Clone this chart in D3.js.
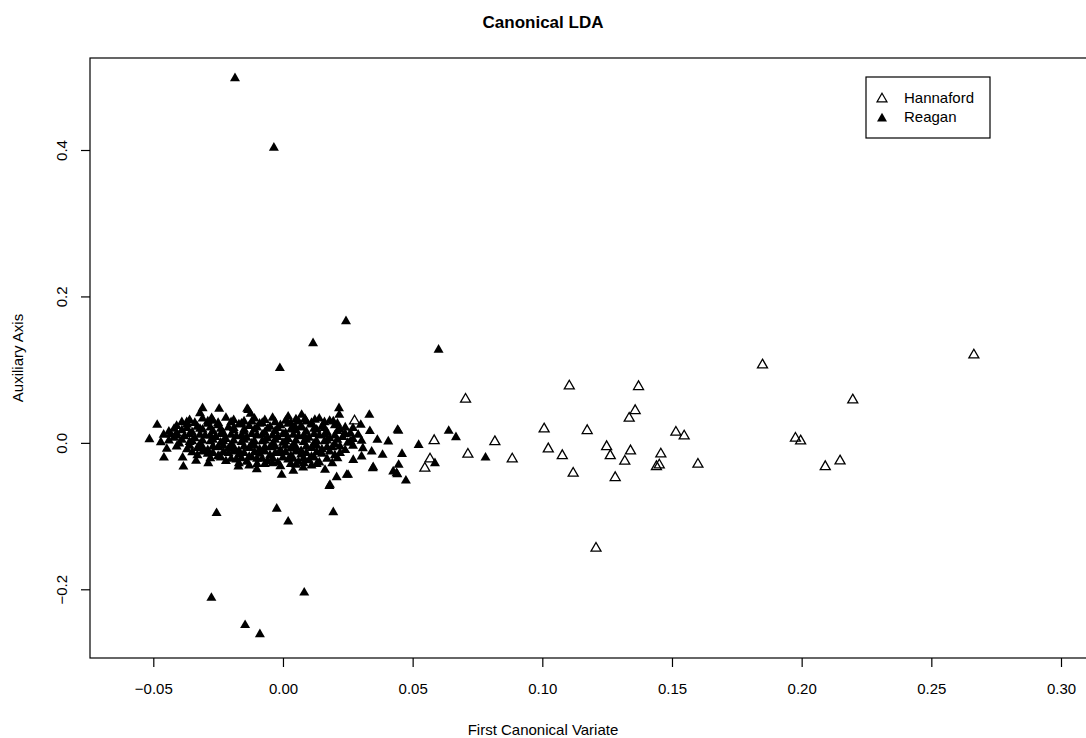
<!DOCTYPE html>
<html>
<head>
<meta charset="utf-8">
<script src="https://cdn.jsdelivr.net/npm/d3@7"></script>
<style>
  body { margin: 0; background: #fff; }
  svg text { font-family: "Liberation Sans", Arial, sans-serif; fill: #000; }
</style>
</head>
<body>
<script>
/* Canonical LDA scatter */

const xTicks = [-0.05, 0.00, 0.05, 0.10, 0.15, 0.20, 0.25, 0.30];
const yTicks = [-0.2, 0.0, 0.2, 0.4];
const groups = ["Hannaford", "Reagan"];

// Hannaford (open triangles)
const hannaford = [
  [0.0276, 0.0299], [0.0583, 0.0030], [0.0567, -0.0220], [0.0547, -0.0347],
  [0.0704, 0.0595], [0.0713, -0.0156], [0.0817, 0.0016], [0.0884, -0.0220],
  [0.1007, 0.0190], [0.1023, -0.0083], [0.1077, -0.0175], [0.1104, 0.0777],
  [0.1119, -0.0415], [0.1173, 0.0167], [0.1207, -0.1440], [0.1248, -0.0052],
  [0.1262, -0.0175], [0.1281, -0.0475], [0.1318, -0.0251], [0.1335, 0.0336],
  [0.1340, -0.0110], [0.1358, 0.0440], [0.1371, 0.0768], [0.1440, -0.0325],
  [0.1451, -0.0302], [0.1457, -0.0152], [0.1515, 0.0145], [0.1547, 0.0094],
  [0.1600, -0.0292], [0.1849, 0.1064], [0.1976, 0.0063], [0.1996, 0.0026],
  [0.2091, -0.0325], [0.2148, -0.0247], [0.2197, 0.0586], [0.2664, 0.1200]
];

// Reagan outliers
const reaganOuter = [
  [-0.0185, 0.498], [-0.0035, 0.403], [0.0243, 0.166], [0.0116, 0.136],
  [-0.0012, 0.102], [0.0600, 0.127], [-0.0256, -0.096], [-0.0024, -0.090],
  [0.0020, -0.1076], [0.0194, -0.0948], [-0.0276, -0.2118], [0.0082, -0.2046],
  [-0.0146, -0.249], [-0.0089, -0.2614]
];

// Reagan, right side of the cluster
const reaganRight = [
  [0.0639, 0.0163], [0.0667, 0.0076], [0.0781, -0.0202], [0.0586, -0.0279],
  [0.0333, 0.0381], [0.0445, 0.0163], [0.0406, 0.0017], [0.0364, 0.0040],
  [0.0523, -0.0029], [0.0384, -0.0165], [0.0459, -0.0152], [0.0346, -0.0347],
  [0.0446, -0.0302], [0.0425, -0.0393], [0.0441, -0.0429], [0.0474, -0.0516],
  [0.0251, -0.0438], [0.0300, 0.0245], [0.0335, 0.0160], [0.0303, 0.0026],
  [0.0308, -0.0074], [0.0342, -0.0120], [0.0303, -0.0188], [0.0271, -0.0234],
  [0.0442, 0.0176], [0.0348, -0.0333], [0.0438, -0.0415], [0.0179, -0.0589],
  [0.0207, -0.0470], [0.0162, -0.0370], [0.0181, -0.0575]
];

// Reagan, edges of the cluster
const reaganEdge = [
  [-0.0485, 0.0245], [-0.0515, 0.0049], [-0.0471, 0.0008], [-0.0433, 0.0117],
  [-0.0448, -0.0083], [-0.0459, -0.0202], [-0.0387, -0.0202], [-0.0384, -0.0325],
  [-0.0335, -0.0247], [-0.0288, -0.0279], [-0.0310, 0.0473], [-0.0320, 0.0404],
  [-0.0246, 0.0463], [-0.0275, 0.0336], [-0.0371, 0.0281], [-0.0410, 0.0131],
  [-0.0243, -0.0188], [-0.0172, -0.0325], [-0.0138, 0.0463], [-0.0125, 0.0395],
  [0.0020, 0.0358], [0.0072, 0.0381], [0.0085, 0.0326], [0.0123, 0.0313],
  [0.0216, 0.0473], [0.0217, 0.0381], [0.0194, 0.0290], [0.0046, 0.0221],
  [-0.0101, -0.0361], [-0.0005, -0.0438], [0.0040, -0.0384], [0.0078, -0.0339],
  [0.0246, -0.0438], [-0.0134, 0.0449]
];

// Reagan, dense core
const reaganCore = [
  [-0.036, 0.031], [-0.031, 0.033], [-0.027, 0.030], [-0.022, 0.034], [-0.019, 0.031],
  [-0.015, 0.029], [-0.011, 0.033], [-0.007, 0.031], [-0.004, 0.034], [0.001, 0.030],
  [0.005, 0.032], [0.009, 0.029], [0.014, 0.033], [0.018, 0.030],
  [-0.039, 0.028], [-0.034, 0.027], [-0.029, 0.029], [-0.025, 0.027], [-0.020, 0.028],
  [-0.016, 0.026], [-0.012, 0.029], [-0.008, 0.027], [-0.003, 0.028], [0.002, 0.026],
  [0.006, 0.029], [0.011, 0.027], [0.016, 0.028], [0.021, 0.026],
  [-0.041, 0.023], [-0.037, 0.025], [-0.033, 0.022], [-0.029, 0.026], [-0.025, 0.024],
  [-0.021, 0.021], [-0.017, 0.025], [-0.013, 0.023], [-0.009, 0.026], [-0.005, 0.022],
  [-0.001, 0.024], [0.003, 0.027], [0.007, 0.023], [0.011, 0.025], [0.015, 0.022],
  [0.020, 0.024], [0.024, 0.021],
  [-0.042, 0.019], [-0.037, 0.020], [-0.032, 0.019], [-0.028, 0.021], [-0.024, 0.019],
  [-0.019, 0.020], [-0.015, 0.018], [-0.010, 0.021], [-0.006, 0.019], [-0.002, 0.020],
  [0.003, 0.018], [0.007, 0.021], [0.012, 0.019], [0.016, 0.020], [0.022, 0.018],
  [0.027, 0.020],
  [-0.044, 0.015], [-0.039, 0.017], [-0.035, 0.014], [-0.031, 0.018], [-0.027, 0.016],
  [-0.023, 0.013], [-0.019, 0.017], [-0.015, 0.015], [-0.011, 0.018], [-0.007, 0.014],
  [-0.003, 0.016], [0.001, 0.013], [0.005, 0.017], [0.009, 0.015], [0.013, 0.018],
  [0.017, 0.014], [0.021, 0.016], [0.026, 0.013],
  [-0.046, 0.011], [-0.041, 0.010], [-0.036, 0.012], [-0.032, 0.011], [-0.028, 0.010],
  [-0.024, 0.012], [-0.020, 0.011], [-0.016, 0.010], [-0.012, 0.012], [-0.008, 0.011],
  [-0.004, 0.010], [0.000, 0.012], [0.004, 0.011], [0.008, 0.010], [0.012, 0.012],
  [0.016, 0.011], [0.020, 0.010], [0.024, 0.012], [0.029, 0.011],
  [-0.042, 0.007], [-0.038, 0.009], [-0.034, 0.006], [-0.030, 0.010], [-0.026, 0.008],
  [-0.022, 0.005], [-0.018, 0.009], [-0.014, 0.007], [-0.010, 0.010], [-0.006, 0.006],
  [-0.002, 0.008], [0.002, 0.005], [0.006, 0.009], [0.010, 0.007], [0.014, 0.010],
  [0.018, 0.006], [0.023, 0.008], [0.027, 0.005],
  [-0.044, 0.003], [-0.039, 0.004], [-0.035, 0.002], [-0.031, 0.003], [-0.027, 0.004],
  [-0.023, 0.002], [-0.019, 0.003], [-0.015, 0.004], [-0.011, 0.002], [-0.007, 0.003],
  [-0.003, 0.004], [0.001, 0.002], [0.005, 0.003], [0.009, 0.004], [0.013, 0.002],
  [0.017, 0.003], [0.021, 0.004], [0.026, 0.002],
  [-0.040, -0.001], [-0.036, 0.001], [-0.032, -0.002], [-0.028, 0.002], [-0.024, 0.000],
  [-0.020, -0.003], [-0.016, 0.001], [-0.012, -0.001], [-0.008, 0.002], [-0.004, -0.002],
  [0.000, 0.000], [0.004, -0.003], [0.008, 0.001], [0.012, -0.001], [0.016, 0.002],
  [0.020, -0.002], [0.025, 0.000],
  [-0.041, -0.005], [-0.036, -0.004], [-0.031, -0.006], [-0.027, -0.005], [-0.023, -0.004],
  [-0.019, -0.006], [-0.015, -0.005], [-0.011, -0.004], [-0.007, -0.006], [-0.003, -0.005],
  [0.001, -0.004], [0.005, -0.006], [0.009, -0.005], [0.013, -0.004], [0.017, -0.006],
  [0.022, -0.005], [0.027, -0.004],
  [-0.037, -0.009], [-0.033, -0.007], [-0.029, -0.010], [-0.025, -0.006], [-0.021, -0.008],
  [-0.017, -0.011], [-0.013, -0.007], [-0.009, -0.009], [-0.005, -0.006], [-0.001, -0.010],
  [0.003, -0.008], [0.007, -0.011], [0.011, -0.007], [0.015, -0.009], [0.019, -0.006],
  [0.024, -0.010],
  [-0.035, -0.013], [-0.031, -0.012], [-0.027, -0.014], [-0.023, -0.013], [-0.019, -0.012],
  [-0.015, -0.014], [-0.011, -0.013], [-0.007, -0.012], [-0.003, -0.014], [0.001, -0.013],
  [0.005, -0.012], [0.009, -0.014], [0.013, -0.013], [0.018, -0.012], [0.022, -0.014],
  [-0.033, -0.017], [-0.029, -0.015], [-0.025, -0.018], [-0.021, -0.014], [-0.017, -0.016],
  [-0.013, -0.019], [-0.009, -0.015], [-0.005, -0.017], [-0.001, -0.014], [0.003, -0.018],
  [0.007, -0.016], [0.011, -0.019], [0.015, -0.015], [0.020, -0.017],
  [-0.028, -0.021], [-0.024, -0.020], [-0.020, -0.022], [-0.016, -0.021], [-0.012, -0.020],
  [-0.008, -0.022], [-0.004, -0.021], [0.000, -0.020], [0.004, -0.022], [0.008, -0.021],
  [0.012, -0.020], [0.017, -0.022], [0.021, -0.021],
  [-0.022, -0.025], [-0.018, -0.023], [-0.014, -0.026], [-0.010, -0.022], [-0.006, -0.025],
  [-0.002, -0.027], [0.002, -0.023], [0.006, -0.026], [0.010, -0.024], [0.014, -0.027],
  [-0.017, -0.028], [-0.010, -0.029], [-0.004, -0.028], [0.003, -0.029], [0.008, -0.028],
  [0.013, -0.029], [0.019, -0.028],
  [-0.013, -0.031], [-0.007, -0.029], [-0.001, -0.032], [0.005, -0.030], [0.011, -0.031]
];

const reagan = [].concat(reaganOuter, reaganRight, reaganEdge, reaganCore);

/* Chart size */

const w = 1086,
      h = 738,
      boxLeft = 90,
      boxTop = 58,
      boxBottom = 658,
      boxRight = 1100;

const x = d3.scaleLinear().domain([-0.05, 0.30]).range([153.3, 1061]);
const y = d3.scaleLinear().domain([-0.2, 0.4]).range([589.3, 150]);

const svg = d3.select("body")
  .append("svg")
  .attr("width", w)
  .attr("height", h);

// R-style triangle, centroid at the data point
const tri = "M0,-5.77L5,2.89L-5,2.89Z";

svg.append("defs").append("clipPath").attr("id", "plot")
  .append("rect").attr("x", boxLeft).attr("y", boxTop)
  .attr("width", boxRight - boxLeft).attr("height", boxBottom - boxTop);

const pts = svg.append("g").attr("clip-path", "url(#plot)");

pts.selectAll("path.reagan")
  .data(reagan)
  .enter()
  .append("path")
  .attr("class", "reagan")
  .attr("d", tri)
  .attr("transform", d => "translate(" + x(d[0]) + "," + y(d[1]) + ")")
  .attr("fill", "#000");

pts.selectAll("path.hannaford")
  .data(hannaford)
  .enter()
  .append("path")
  .attr("class", "hannaford")
  .attr("d", tri)
  .attr("transform", d => "translate(" + x(d[0]) + "," + y(d[1]) + ")")
  .attr("fill", "none")
  .attr("stroke", "#000")
  .attr("stroke-width", 1.3);

/* Box */

svg.append("rect")
  .attr("x", boxLeft)
  .attr("y", boxTop)
  .attr("width", boxRight - boxLeft)
  .attr("height", boxBottom - boxTop)
  .attr("fill", "none")
  .attr("stroke", "#000")
  .attr("stroke-width", 1.2);

/* Axes */

const xAxis = svg.append("g")
  .attr("transform", "translate(0," + boxBottom + ")")
  .call(d3.axisBottom(x).tickValues(xTicks).tickFormat(d3.format(".2f")).tickSize(9).tickPadding(16).tickSizeOuter(0));
xAxis.select(".domain").remove();
xAxis.selectAll("line").attr("stroke", "#000").attr("stroke-width", 1.2);
xAxis.selectAll("text").attr("font-size", 15).attr("font-family", "Liberation Sans, Arial, sans-serif");

const yAxis = svg.append("g")
  .attr("transform", "translate(" + boxLeft + ",0)")
  .call(d3.axisLeft(y).tickValues(yTicks).tickFormat(d3.format(".1f")).tickSize(9).tickSizeOuter(0));
yAxis.select(".domain").remove();
yAxis.selectAll("line").attr("stroke", "#000").attr("stroke-width", 1.2);
yAxis.selectAll("text")
  .attr("font-size", 15)
  .attr("font-family", "Liberation Sans, Arial, sans-serif")
  .attr("x", null).attr("dy", null)
  .attr("text-anchor", "middle")
  .attr("transform", "translate(-23,0) rotate(-90)");

/* Titles */

svg.append("text")
  .attr("x", 543).attr("y", 28)
  .attr("text-anchor", "middle")
  .attr("font-size", 17)
  .attr("font-weight", "bold")
  .text("Canonical LDA");

svg.append("text")
  .attr("x", 543).attr("y", 735)
  .attr("text-anchor", "middle")
  .attr("font-size", 15)
  .text("First Canonical Variate");

svg.append("text")
  .attr("transform", "translate(23,358) rotate(-90)")
  .attr("text-anchor", "middle")
  .attr("font-size", 15)
  .text("Auxiliary Axis");

/* Legend */

const legend = svg.append("g").attr("id", "legend");

legend.append("rect")
  .attr("x", 866).attr("y", 77)
  .attr("width", 124).attr("height", 61)
  .attr("fill", "#fff")
  .attr("stroke", "#000")
  .attr("stroke-width", 1.2);

legend.selectAll("path")
  .data(groups)
  .enter()
  .append("path")
  .attr("d", tri)
  .attr("transform", (d, i) => "translate(882," + (99 + i * 19.5) + ")")
  .attr("fill", (d, i) => i === 0 ? "none" : "#000")
  .attr("stroke", (d, i) => i === 0 ? "#000" : "none")
  .attr("stroke-width", 1.2);

legend.selectAll("text")
  .data(groups)
  .enter()
  .append("text")
  .attr("x", 904)
  .attr("y", (d, i) => 102.5 + i * 19.5)
  .attr("font-size", 15)
  .text(d => d);
</script>
</body>
</html>
